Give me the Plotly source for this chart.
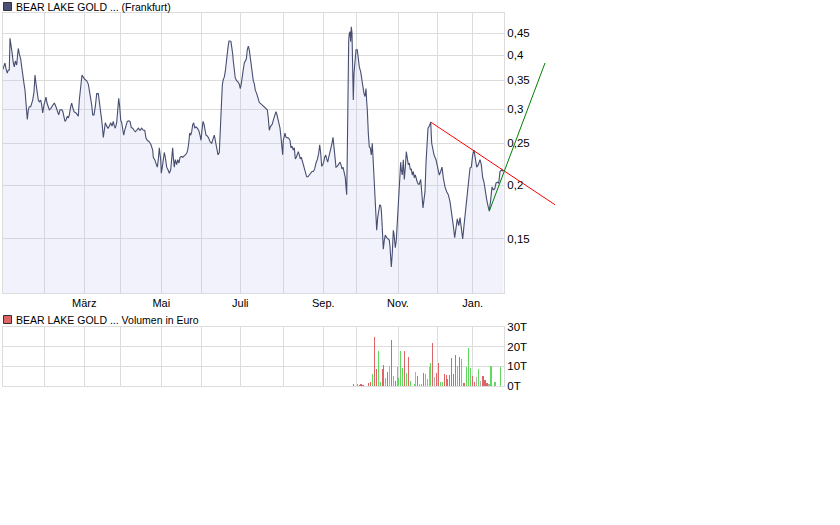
import math
import plotly.graph_objects as go

# ---------------- data ----------------
# position of each quote along the time axis (quote sessions) and closing price in EUR
t = [2.7, 4, 5, 6, 7.3, 8.3, 9.3, 10, 11, 12, 13.3, 14.3, 15.3, 16.7, 17.7, 18.3, 19.3, 20.7, 21.7, 22.7,
     24, 25, 26, 26.7, 27.3, 28.3, 29.3, 30.7, 31.7, 32.7, 34, 35, 36, 37.3, 38.3, 39.3, 40.7, 41.7, 42.7, 44,
     45, 46, 47, 48.3, 49.3, 50.7, 52, 53.3, 54.3, 55.7, 56.7, 57.7, 58.7, 60, 61.7, 62.7, 64, 65, 66, 67.3,
     68.3, 69.3, 70.7, 71.7, 72.7, 74, 76, 77.3, 78.3, 79.3, 80.7, 82, 83.3, 84.7, 86.7, 88.3, 89.3, 90.7, 91.7, 92.7,
     94, 95.3, 96.7, 98.3, 99.3, 100.7, 101.7, 102.7, 103.3, 104.3, 105.3, 106.7, 108, 109.3, 110.7, 112, 113.3, 114.3, 115.3, 116.7,
     117.7, 118.7, 119.7, 120.7, 121.7, 122.7, 123.7, 124.7, 126, 127.3, 128.7, 130, 131.3, 132.7, 134, 135.3, 136.7, 138.3, 140, 141.7,
     143.3, 144.7, 146, 147.3, 149.3, 151, 152.7, 153.3, 154.7, 156, 157.3, 158.3, 159.3, 160.7, 161.3, 162.3, 163.3, 164.3, 165.3, 166.7,
     168, 169.3, 170.7, 171.7, 172.7, 173.3, 174.3, 175.3, 176.7, 177.7, 179, 180, 181.3, 182.7, 184, 185.3, 186.7, 187.7, 188.7, 189.7,
     190.7, 191.7, 192.7, 193.7, 194.7, 196, 197.3, 198.7, 200, 201, 202, 203, 204, 205, 206, 207.3, 208.7, 210, 211.7, 213.3,
     214.3, 215.3, 216.7, 218, 219.3, 220.3, 221.3, 222.3, 223.3, 224.3, 225.3, 226, 227, 228, 229, 230, 231, 232, 232.7, 233.3,
     234.3, 235.3, 236.7, 238, 239.3, 240.3, 241.3, 242.3, 243.3, 244.3, 245.3, 246.3, 247.3, 248.3, 249.3, 250.3, 251.3, 252.3, 253.3, 254.3,
     255.3, 256.7, 258, 259.3, 260.7, 262, 263.3, 264.7, 266, 267.3, 268.3, 269.3, 270.3, 271.3, 272.3, 273.3, 274.7, 276, 277, 278,
     279, 280, 281, 282, 282.7, 283.3, 284.3, 285, 286, 287.3, 288.7, 290, 291, 292, 293.3, 294.3, 295.3, 296.3, 297.3, 298.3,
     299.3, 300.3, 301.3, 302.7, 304, 305.3, 306.7, 308, 309.3, 310.7, 312, 313.3, 314.7, 316, 317.3, 318.7, 319.7, 320.7, 321.7, 322.7,
     323.7, 324.7, 325.7, 326.7, 327.7, 328.7, 330, 331, 332, 333, 334, 335, 336, 337.3, 338.7, 340, 341, 342, 343, 344,
     345.3, 346, 346.7, 347.3, 348, 348.7, 349.3, 350, 350.7, 351.3, 352, 352.7, 353.3, 354, 355, 356, 357.3, 358.3, 359.3, 360.7,
     361.7, 363, 364, 365, 366, 366.7, 367.3, 368.3, 369.3, 370.3, 371.3, 372.3, 373.3, 374, 375, 376, 376.7, 377.7, 378.7, 379.7,
     380.7, 381.3, 382, 382.7, 383.3, 384.3, 385.3, 386.7, 388, 389.3, 390, 390.7, 391.3, 392.3, 393.3, 394, 394.7, 395.3, 396.3, 397.3,
     398.3, 399.3, 400, 400.7, 401.3, 402.3, 403.3, 404.3, 405.3, 406.3, 407.3, 408.3, 409.3, 410.3, 411.3, 412.3, 413.3, 414.3, 415.3, 416.3,
     417.3, 418.3, 419.3, 420.7, 421.7, 422.3, 423, 424, 425, 426, 427, 428, 429.3, 430.7, 431.7, 433.3, 434, 436, 437.3, 438.3,
     439.3, 440.7, 442, 443.3, 445, 446.7, 448.3, 450, 451, 452, 453.3, 454.7, 456, 457.3, 458.7, 460, 461.3, 462.7, 464, 465.3,
     466.7, 468.3, 470, 471.3, 472.7, 474, 475.3, 476.7, 478.3, 480, 481.3, 482.7, 484, 485.3, 486.7, 488, 489.3, 490.7, 492, 493.3,
     494.7, 496, 497.3, 498.7, 500, 501.7, 503.3]

price = [0.370, 0.376, 0.384, 0.372, 0.364, 0.370, 0.370, 0.438, 0.426, 0.407, 0.384, 0.376, 0.388, 0.380, 0.403, 0.415, 0.403, 0.392, 0.376, 0.356,
         0.344, 0.332, 0.315, 0.304, 0.284, 0.299, 0.304, 0.304, 0.310, 0.315, 0.329, 0.360, 0.344, 0.321, 0.315, 0.312, 0.315, 0.307, 0.294, 0.307,
         0.315, 0.320, 0.310, 0.301, 0.299, 0.301, 0.304, 0.307, 0.310, 0.305, 0.301, 0.296, 0.291, 0.299, 0.299, 0.297, 0.289, 0.281, 0.283, 0.289,
         0.286, 0.291, 0.304, 0.310, 0.303, 0.296, 0.294, 0.292, 0.289, 0.315, 0.341, 0.360, 0.356, 0.352, 0.349, 0.343, 0.332, 0.318, 0.307, 0.291,
         0.291, 0.304, 0.326, 0.326, 0.315, 0.299, 0.283, 0.268, 0.258, 0.268, 0.279, 0.274, 0.271, 0.274, 0.279, 0.274, 0.281, 0.274, 0.271, 0.279,
         0.296, 0.318, 0.304, 0.283, 0.279, 0.271, 0.261, 0.268, 0.274, 0.281, 0.282, 0.281, 0.272, 0.271, 0.268, 0.266, 0.268, 0.271, 0.268, 0.271,
         0.268, 0.268, 0.257, 0.254, 0.252, 0.248, 0.241, 0.232, 0.229, 0.225, 0.220, 0.229, 0.244, 0.229, 0.213, 0.220, 0.232, 0.238, 0.232, 0.220,
         0.217, 0.213, 0.217, 0.229, 0.244, 0.232, 0.220, 0.229, 0.223, 0.229, 0.225, 0.232, 0.233, 0.232, 0.233, 0.235, 0.237, 0.241, 0.250, 0.264,
         0.261, 0.266, 0.276, 0.279, 0.271, 0.273, 0.271, 0.268, 0.261, 0.254, 0.268, 0.281, 0.277, 0.268, 0.261, 0.260, 0.257, 0.252, 0.250, 0.257,
         0.261, 0.254, 0.244, 0.235, 0.238, 0.279, 0.326, 0.341, 0.352, 0.356, 0.367, 0.384, 0.403, 0.418, 0.432, 0.432, 0.430, 0.418, 0.403, 0.388,
         0.370, 0.354, 0.349, 0.347, 0.343, 0.335, 0.344, 0.354, 0.371, 0.384, 0.388, 0.392, 0.412, 0.420, 0.412, 0.397, 0.373, 0.360, 0.349, 0.344,
         0.332, 0.326, 0.320, 0.311, 0.309, 0.307, 0.305, 0.303, 0.301, 0.299, 0.286, 0.268, 0.273, 0.276, 0.277, 0.283, 0.289, 0.296, 0.291, 0.283,
         0.273, 0.271, 0.258, 0.244, 0.235, 0.254, 0.264, 0.264, 0.258, 0.258, 0.257, 0.254, 0.244, 0.246, 0.241, 0.244, 0.230, 0.232, 0.237, 0.239,
         0.235, 0.230, 0.232, 0.226, 0.220, 0.215, 0.209, 0.209, 0.211, 0.213, 0.215, 0.215, 0.218, 0.225, 0.229, 0.237, 0.248, 0.237, 0.221, 0.223,
         0.226, 0.232, 0.235, 0.230, 0.226, 0.232, 0.238, 0.244, 0.250, 0.258, 0.241, 0.226, 0.220, 0.221, 0.223, 0.226, 0.223, 0.218, 0.220, 0.215,
         0.208, 0.198, 0.190, 0.237, 0.360, 0.434, 0.450, 0.454, 0.430, 0.466, 0.450, 0.363, 0.315, 0.363, 0.400, 0.412, 0.412, 0.388, 0.376, 0.366,
         0.350, 0.332, 0.326, 0.321, 0.335, 0.312, 0.299, 0.264, 0.245, 0.244, 0.235, 0.250, 0.226, 0.202, 0.180, 0.164, 0.157, 0.168, 0.177, 0.180,
         0.179, 0.175, 0.164, 0.151, 0.142, 0.149, 0.153, 0.151, 0.150, 0.149, 0.144, 0.136, 0.129, 0.139, 0.157, 0.154, 0.147, 0.143, 0.149, 0.164,
         0.181, 0.205, 0.220, 0.226, 0.217, 0.211, 0.229, 0.206, 0.220, 0.239, 0.231, 0.223, 0.225, 0.217, 0.218, 0.211, 0.215, 0.208, 0.211, 0.206,
         0.203, 0.201, 0.201, 0.206, 0.195, 0.187, 0.177, 0.185, 0.193, 0.225, 0.248, 0.271, 0.274, 0.280, 0.250, 0.237, 0.235, 0.229, 0.220, 0.217,
         0.211, 0.215, 0.220, 0.208, 0.198, 0.193, 0.190, 0.183, 0.177, 0.168, 0.161, 0.151, 0.157, 0.167, 0.161, 0.168, 0.159, 0.150, 0.161, 0.172,
         0.183, 0.198, 0.219, 0.220, 0.235, 0.241, 0.229, 0.220, 0.223, 0.229, 0.223, 0.208, 0.203, 0.191, 0.185, 0.179, 0.174, 0.185, 0.198, 0.195,
         0.196, 0.202, 0.203, 0.202, 0.215, 0.217, 0.215]

# month starts on the time axis and their labels
month_pos = [44, 84.3, 120.7, 161.3, 201.7, 240.3, 283.7, 323.3, 356, 398, 437, 472.7]
month_label = ["", "März", "", "Mai", "", "Juli", "", "Sep.", "", "Nov.", "", "Jan."]

price_ticks = [0.15, 0.2, 0.25, 0.3, 0.35, 0.4, 0.45]
price_tick_text = ["0,15", "0,2", "0,25", "0,3", "0,35", "0,4", "0,45"]

# volume in euro (T = thousand)
vol_t = [353.3, 357.3, 359.3, 361, 363, 368.3, 370.3, 372.3, 374.7, 376.3, 378.3, 380.3, 382.3, 383.3, 385.3, 387.3,
         389.3, 391.3, 393.3, 395.3, 397.3, 398.3, 400.3, 402.3, 404.3, 406.3, 408.3, 410.3, 414.3, 415.3, 417.3, 419.3,
         421.3, 423.3, 425.3, 427.3, 429.3, 430.3, 432.3, 434.3, 436.3, 438.3, 440.3, 442.3, 444.3, 446.3, 447.3, 449.3,
         451.3, 453.3, 455.3, 457.3, 459.3, 461.3, 463.3, 464.3, 466.3, 468.3, 470.3, 472.3, 474.3, 476.3, 478.3, 480.3,
         483, 485, 487, 489, 491, 495, 500.3]
vol = [1000, 1000, 500, 1000, 500, 1300, 2000, 6000, 25000, 8600, 17700, 2200, 8600, 10600, 4200, 7300,
       10000, 23300, 5000, 2500, 9800, 4200, 17700, 9100, 17700, 6700, 14700, 2700, 1000, 7100, 5000, 1000,
       1000, 6600, 6200, 3500, 9800, 11600, 21900, 4600, 6600, 11800, 2200, 2200, 6000, 5600, 3500, 5600,
       14200, 6000, 15700, 10300, 14700, 13700, 1700, 1500, 9400, 19000, 9300, 4900, 2200, 4400, 8600, 2500,
       5000, 3000, 1700, 1000, 10100, 2200, 9600]
vol_dir = ["down", "up", "down", "down", "down", "down", "down", "up", "down", "down", "up", "up", "down", "down", "up", "down",
           "flat", "down", "up", "down", "up", "up", "up", "up", "down", "up", "down", "up", "up", "flat", "down", "flat",
           "up", "down", "up", "up", "flat", "up", "down", "flat", "down", "down", "up", "up", "down", "down", "down", "down",
           "down", "down", "down", "up", "down", "up", "down", "down", "up", "up", "up", "down", "down", "flat", "up", "flat",
           "down", "down", "down", "flat", "up", "up", "up"]
dir_color = {"up": "#5fd95f", "down": "#de6565", "flat": "#b0b0b0"}

# drawn trend lines (time position, price)
trend_down_t = [430.7, 555]
trend_down_p = [0.280, 0.180]
trend_up_t = [489.3, 545]
trend_up_p = [0.174, 0.384]

# ---------------- layout geometry ----------------
W, H = 840, 525
def fx(px):
    return px / W
def fy(py):
    return 1 - py / H

FONT = "Liberation Sans"
GRID = "#dcdcdc"

fig = go.Figure()

fig.add_trace(go.Scatter(
    x=t, y=price, mode="lines", line=dict(color="#474e70", width=1.1),
    fill="tozeroy", fillcolor="rgba(190,190,240,0.2)", xaxis="x", yaxis="y",
    showlegend=False, hoverinfo="skip"))

fig.add_trace(go.Bar(
    x=vol_t, y=vol, marker=dict(color=[dir_color[d] for d in vol_dir], line=dict(width=0)),
    width=1.2, xaxis="x2", yaxis="y2", showlegend=False, hoverinfo="skip"))

fig.add_trace(go.Scatter(
    x=trend_down_t, y=trend_down_p, mode="lines", line=dict(color="#ff0000", width=1),
    xaxis="x3", yaxis="y3", showlegend=False, hoverinfo="skip"))
fig.add_trace(go.Scatter(
    x=trend_up_t, y=trend_up_p, mode="lines", line=dict(color="#008000", width=1),
    xaxis="x3", yaxis="y3", showlegend=False, hoverinfo="skip"))

yr = [math.log10(0.1123), math.log10(0.5016)]
xr = [3, 504]

common_x = dict(range=xr, tickmode="array", tickvals=month_pos, showgrid=True, gridcolor=GRID,
                gridwidth=1, zeroline=False, showline=True, linecolor=GRID, mirror=True, ticks="",
                automargin=False)

fig.update_layout(
    width=W, height=H, autosize=False,
    margin=dict(l=0, r=0, t=0, b=0, pad=0, autoexpand=False),
    paper_bgcolor="white", plot_bgcolor="rgba(0,0,0,0)",
    font=dict(family=FONT, size=11, color="#000000"),
    xaxis=dict(domain=[fx(3), fx(504)], anchor="y", ticktext=month_label,
               tickfont=dict(size=11), **common_x),
    yaxis=dict(domain=[fy(293), fy(13)], anchor="x", type="log", range=yr, side="right",
               tickmode="array", tickvals=price_ticks, ticktext=price_tick_text,
               showgrid=True, gridcolor=GRID, zeroline=False, showline=True, linecolor=GRID,
               mirror=True, ticks="", tickfont=dict(size=11.5), automargin=False),
    xaxis2=dict(domain=[fx(3), fx(504)], anchor="y2", showticklabels=False, **common_x),
    yaxis2=dict(domain=[fy(386), fy(326.7)], anchor="x2", range=[0, 30000], side="right",
                tickmode="array", tickvals=[0, 10000, 20000, 30000],
                ticktext=["0T", "10T", "20T", "30T"], showgrid=True, gridcolor=GRID,
                zeroline=False, showline=True, linecolor=GRID, mirror=True, ticks="",
                tickfont=dict(size=11.5), automargin=False),
    xaxis3=dict(domain=[fx(3), fx(560)], anchor="y3", range=[3, 560], visible=False),
    yaxis3=dict(domain=[fy(293), fy(13)], anchor="x3", type="log", range=yr, visible=False),
    bargap=0,
)

# legend labels
fig.add_shape(type="rect", xref="paper", yref="paper", x0=fx(3.5), x1=fx(11.5), y0=fy(10.5), y1=fy(2.5),
              fillcolor="#4b5274", line=dict(color="#333333", width=1))
fig.add_annotation(xref="paper", yref="paper", x=fx(14), y=fy(6.5), text="BEAR LAKE GOLD ... (Frankfurt)",
                   showarrow=False, xanchor="left", yanchor="middle", font=dict(size=10.5, family=FONT))
fig.add_shape(type="rect", xref="paper", yref="paper", x0=fx(3.5), x1=fx(11.5), y0=fy(323.5), y1=fy(315.5),
              fillcolor="#de6565", line=dict(color="#333333", width=1))
fig.add_annotation(xref="paper", yref="paper", x=fx(14), y=fy(319.5), text="BEAR LAKE GOLD ... Volumen in Euro",
                   showarrow=False, xanchor="left", yanchor="middle", font=dict(size=10.5, family=FONT))

fig.write_html("out.html", config={"displayModeBar": False, "staticPlot": True},
               post_script="document.body.style.margin='0';")
